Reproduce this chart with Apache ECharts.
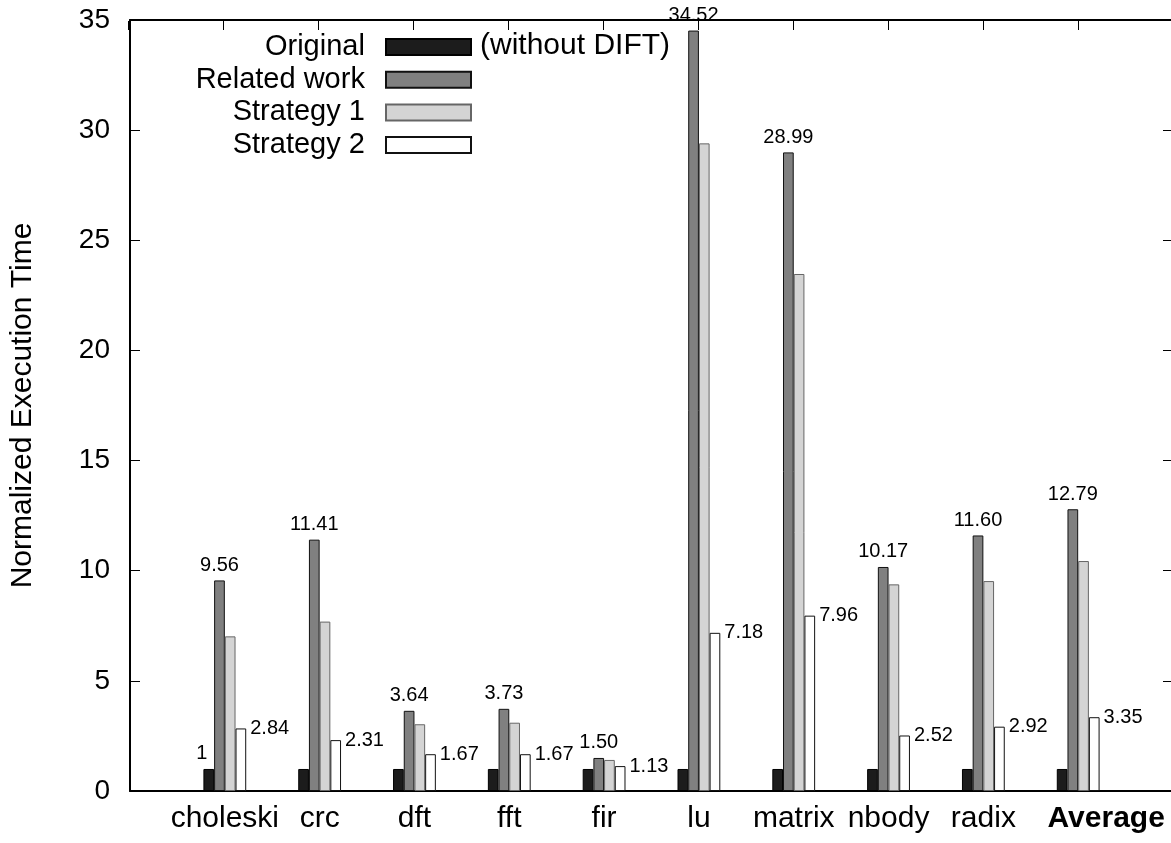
<!DOCTYPE html>
<html>
<head>
  <meta charset="utf-8">
  <title>Normalized Execution Time</title>
  <script src="https://cdn.jsdelivr.net/npm/echarts@6/dist/echarts.min.js"></script>
  <style>
    html, body { margin: 0; padding: 0; background: #fff; overflow: hidden; }
    /* slightly wider than the window: the right frame edge falls just off the picture */
    #chart { width: 1176px; height: 843px; }
  </style>
</head>
<body>
  <div id="chart"></div>
  <script>
    // benchmarks (x axis)
    var benchmarks = ['choleski', 'crc', 'dft', 'fft', 'fir', 'lu', 'matrix', 'nbody', 'radix', 'Average'];
    var seriesNames = ['Original', 'Related work', 'Strategy 1', 'Strategy 2'];

    var original    = [1, 1, 1, 1, 1, 1, 1, 1, 1, 1];
    var relatedWork = [9.56, 11.41, 3.64, 3.73, 1.50, 34.52, 28.99, 10.17, 11.60, 12.79];
    var strategy1   = [7.02, 7.69, 3.03, 3.10, 1.41, 29.40, 23.47, 9.38, 9.53, 10.44];
    var strategy2   = [2.84, 2.31, 1.67, 1.67, 1.13, 7.18, 7.96, 2.52, 2.92, 3.35];

    var yTicks = [0, 5, 10, 15, 20, 25, 30, 35];

    var font = "'Liberation Sans', Arial, sans-serif";

    // pad one empty slot on each side so the groups sit on the tick points
    function pad(arr) {
      return [null].concat(arr, [null]);
    }
    var cats = pad(benchmarks).map(function (c) { return c === null ? '' : c; });

    var chart = echarts.init(document.getElementById('chart'));

    var barW = 10.7;

    var option = {
      animation: false,
      grid: [
        { left: 128, right: 3, top: 20, bottom: 52 },
        // thin strip under the top border, its split lines act as the mirrored x ticks
        { left: 128, right: 3, top: 21, height: 9 }
      ],
      legend: {
        data: seriesNames,
        orient: 'vertical',
        align: 'right',
        right: 1176 - 472,
        top: 31,
        padding: 0,
        itemWidth: 85,
        itemHeight: 16,
        itemGap: 0.7,
        icon: 'rect',
        selectedMode: false,
        formatter: function (name) { return name + '  '; },
        textStyle: { fontSize: 29, lineHeight: 32, color: '#000', fontFamily: font }
      },
      graphic: [{
        type: 'text',
        x: 480,
        y: 46,
        style: {
          text: '(without DIFT)',
          fontSize: 30,
          fontFamily: font,
          fill: '#000',
          verticalAlign: 'middle'
        }
      }],
      xAxis: [{
        type: 'category',
        data: cats,
        boundaryGap: false,
        axisLine: { onZero: false, lineStyle: { color: '#000', width: 2 } },
        axisTick: { show: false },
        axisLabel: {
          margin: 13,
          fontSize: 30,
          color: '#000',
          fontFamily: font,
          interval: 0,
          formatter: function (v) {
            return v === 'Average' ? '{b|' + v + '}' : v;
          },
          rich: {
            b: { fontSize: 30, fontWeight: 'bold', color: '#000', fontFamily: font, padding: [0, 0, 0, 56] }
          }
        }
      }, {
        // top border
        type: 'value',
        position: 'top',
        min: 0,
        max: cats.length - 1,
        interval: 1,
        axisLine: { show: true, onZero: false, lineStyle: { color: '#000', width: 2 } },
        axisTick: { show: false },
        axisLabel: { show: false },
        splitLine: { show: false }
      }, {
        gridIndex: 1,
        type: 'value',
        min: 0,
        max: cats.length - 1,
        interval: 1,
        axisLine: { show: false },
        axisTick: { show: false },
        axisLabel: { show: false },
        splitLine: { show: true, lineStyle: { color: '#000', width: 1 } }
      }],
      yAxis: [{
        type: 'value',
        min: yTicks[0],
        max: yTicks[yTicks.length - 1],
        interval: 5,
        name: 'Normalized Execution Time',
        nameLocation: 'middle',
        nameGap: 92,
        nameTextStyle: { fontSize: 30, color: '#000', fontFamily: font },
        axisLine: { show: true, onZero: false, lineStyle: { color: '#000', width: 2 } },
        axisTick: { show: true, inside: true, length: 10, lineStyle: { color: '#000', width: 1 } },
        axisLabel: { margin: 20, fontSize: 28, color: '#000', fontFamily: font },
        splitLine: { show: false }
      }, {
        type: 'value',
        position: 'right',
        min: yTicks[0],
        max: yTicks[yTicks.length - 1],
        interval: 5,
        axisLine: { show: true, onZero: false, lineStyle: { color: '#000', width: 2 } },
        axisTick: { show: true, inside: true, length: 10, lineStyle: { color: '#000', width: 1 } },
        axisLabel: { show: false },
        splitLine: { show: false }
      }, {
        gridIndex: 1,
        type: 'value',
        min: 0,
        max: 1,
        show: false
      }],
      series: [{
        name: seriesNames[0],
        type: 'bar',
        barWidth: barW,
        barGap: '0%',
        itemStyle: { color: '#1c1c1c', borderColor: '#000', borderWidth: 1 },
        data: pad(original.map(function (v, i) {
          if (i === 0) {
            return {
              value: v,
              label: { show: true, position: 'top', distance: 5, offset: [-7, 0],
                fontSize: 20, color: '#000', fontFamily: font }
            };
          }
          return v;
        }))
      }, {
        name: seriesNames[1],
        type: 'bar',
        barWidth: barW,
        barGap: '0%',
        itemStyle: { color: '#808080', borderColor: '#111', borderWidth: 1 },
        label: {
          show: true, position: 'top', distance: 5,
          fontSize: 20, color: '#000', fontFamily: font,
          formatter: function (p) { return p.value.toFixed(2); }
        },
        data: pad(relatedWork)
      }, {
        name: seriesNames[2],
        type: 'bar',
        barWidth: barW,
        barGap: '0%',
        itemStyle: { color: '#d4d4d4', borderColor: '#666', borderWidth: 1 },
        data: pad(strategy1)
      }, {
        name: seriesNames[3],
        type: 'bar',
        barWidth: barW,
        barGap: '0%',
        itemStyle: { color: '#ffffff', borderColor: '#111', borderWidth: 1 },
        label: {
          show: true, position: ['100%', 0], offset: [4, 0],
          align: 'left', verticalAlign: 'middle',
          fontSize: 20, color: '#000', fontFamily: font,
          formatter: function (p) { return p.value.toFixed(2); }
        },
        data: pad(strategy2)
      }]
    };

    chart.setOption(option);
  </script>
</body>
</html>
